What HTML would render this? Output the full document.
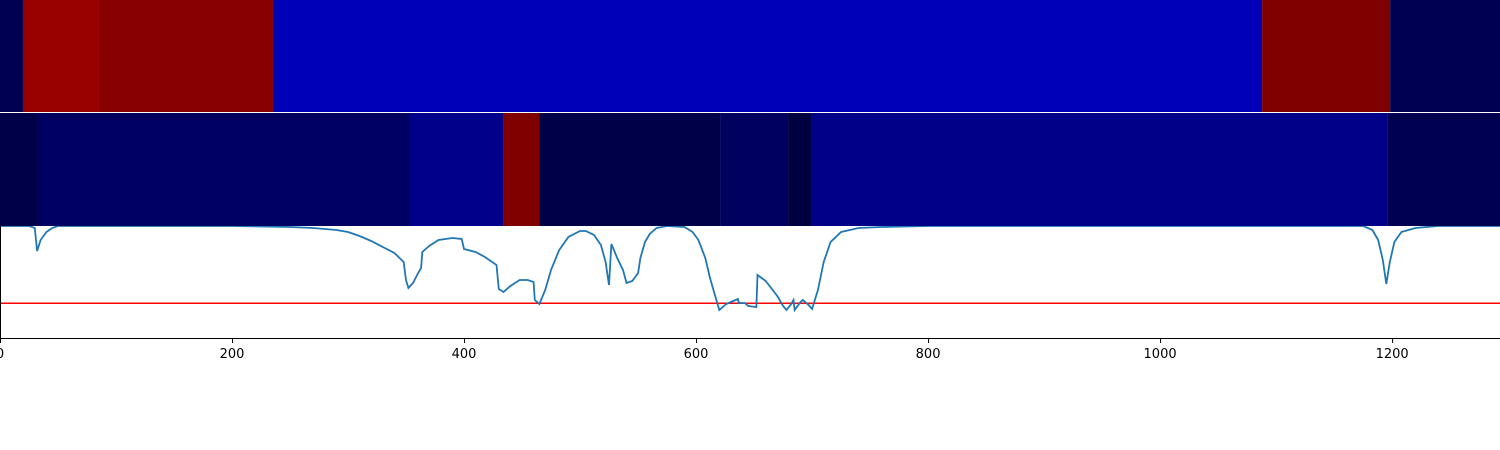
<!DOCTYPE html>
<html><head><meta charset="utf-8"><style>
html,body{margin:0;padding:0;background:#fff;width:1500px;height:450px;overflow:hidden}
svg{display:block}
text{font-family:"DejaVu Sans","Liberation Sans",sans-serif;font-size:13px;fill:#000}
</style></head><body>
<svg id="chart" width="1500" height="450"></svg>
<script>
// data
const row1Edges=[0,19.8,85.3,235.3,1087.9,1198.3,1293];
const row1Colors=["#000050","#980000","#880000","#0000b8","#800000","#000050"];
const row2Edges=[0,31.9,353.4,433.6,464.7,620.7,679.3,699.1,1195.7,1293];
const row2Colors=["#000048","#000062","#00008a","#800000","#000048","#000060","#000040","#000088","#000050"];
const lineX=[0,25,30,32,35,40,45,50,200,250,270,290,300,310,320,330,340,348,350,352,356,360,363,364,370,378,390,398,400,410,418,428,430,434,440,448,455,460,461,465,470,475,482,490,500,505,512,518,522,525,527,532,537,540,545,550,552,556,560,566,575,590,597,602,608,612,617,620,626,632,636,637,642,645,652,653,660,670,675,678,682,684,685,690,692,697,700,705,710,716,725,740,760,800,1175,1183,1188,1192,1195,1198,1202,1208,1220,1240,1293];
const lineY=[226,226,228,251,240,232,228,226,226,227,228,230,232,236,241,247,253,262,280,288,283,274,268,252,246,240,238,239,249,252,257,265,289,292,286,280,280,282,300,304,290,270,250,237,231,231,235,245,262,285,244,258,270,283,281,273,258,242,234,228,226,227,232,240,258,278,298,310,304,301,299,303,303,306,307,275,281,296,306,310,304,300,310,302,300,305,309,290,262,242,232,228,227,226,226,230,240,260,284,262,242,232,228,226,226];
const threshold=0.31;
const xTicks=[0,200,400,600,800,1000,1200];

const NS="http://www.w3.org/2000/svg";
const svg=document.getElementById('chart');
const X=v=>v*1500/1293;
const P3T=226,P3B=338;
// lineY stored as pixel-like levels; convert to fraction then back via axis
const Yv=p=>(P3B-p)/(P3B-P3T);
const Y=f=>P3B-f*(P3B-P3T);
function mk(t,a){const e=document.createElementNS(NS,t);for(const k in a)e.setAttribute(k,a[k]);svg.appendChild(e);return e;}
function row(edges,colors,y0,h,name){
 for(let i=0;i<colors.length;i++){
  const r=mk('rect',{x:X(edges[i]),y:y0,width:X(edges[i+1])-X(edges[i]),height:h,fill:colors[i]});
  
  
 }
}
row(row1Edges,row1Colors,0,112,'heatmap-row1');
row(row2Edges,row2Colors,113,113,'heatmap-row2');
const cp=mk('clipPath',{id:'cp'});
const cr=document.createElementNS(NS,'rect');cr.setAttribute('x',0);cr.setAttribute('y',P3T);cr.setAttribute('width',1500);cr.setAttribute('height',P3B-P3T);cp.appendChild(cr);
const th=mk('line',{x1:0,x2:1500,y1:Y(threshold),y2:Y(threshold),stroke:'#ff0000','stroke-width':1.5});


let d='';
for(let i=0;i<lineX.length;i++){d+=(i?'L':'M')+X(lineX[i]).toFixed(1)+','+Y(Yv(lineY[i])).toFixed(1);}
const ln=mk('path',{d:d,fill:'none',stroke:'#1f77b4','stroke-width':1.8,'clip-path':'url(#cp)'});


const ax=mk('line',{x1:0,x2:1500,y1:338.5,y2:338.5,stroke:'#000','stroke-width':1});


const sp=mk('line',{x1:0.5,x2:0.5,y1:226,y2:338.5,stroke:'#000','stroke-width':1});


xTicks.forEach(t=>{
 const tk=mk('line',{x1:X(t)+0.5,x2:X(t)+0.5,y1:338,y2:343,stroke:'#000','stroke-width':1});
 
 
 const tx=mk('text',{x:X(t),y:358,'text-anchor':'middle'});
 tx.textContent=t;
 
 
});
</script>
</body></html>
